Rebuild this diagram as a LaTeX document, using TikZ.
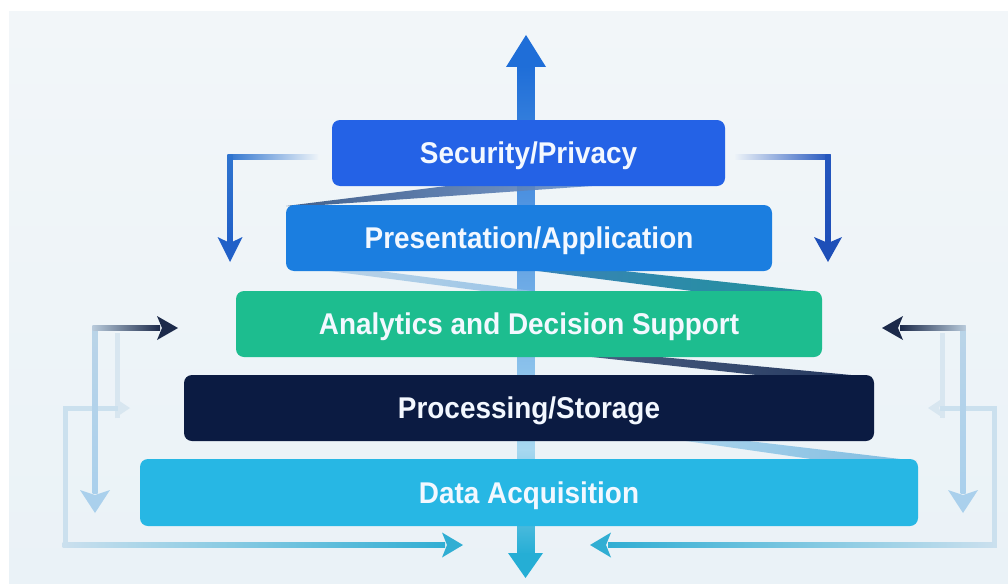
\documentclass[tikz,border=0pt]{standalone}
\usepackage{fontspec}
\setmainfont{Liberation Sans}
\usetikzlibrary{calc}
\definecolor{bgtop}{HTML}{F2F6F9}
\definecolor{bgbot}{HTML}{EAF2F7}
\definecolor{cSec}{HTML}{2462E6}
\definecolor{cPres}{HTML}{1B7EE0}
\definecolor{cAna}{HTML}{1DBD8F}
\definecolor{cProc}{HTML}{0B1B42}
\definecolor{cData}{HTML}{27B7E4}
\definecolor{txt}{HTML}{F3F8FF}
\definecolor{barA}{HTML}{1F6ED8}
\definecolor{barB}{HTML}{A8D8F0}
\definecolor{barC}{HTML}{25AED5}
\definecolor{blueL}{HTML}{2F74CF}
\definecolor{blueLd}{HTML}{2160C8}
\definecolor{blueR}{HTML}{2456BE}
\definecolor{blueRd}{HTML}{1E4FB8}
\definecolor{navy}{HTML}{1C2A4A}
\definecolor{greyb}{HTML}{B8CADB}
\definecolor{lightv}{HTML}{BAD4E8}
\definecolor{lightd}{HTML}{AAD0EC}
\definecolor{faint}{HTML}{D8E6F0}
\definecolor{rectc}{HTML}{CBE0EE}
\definecolor{teal}{HTML}{30AED3}
\definecolor{bg}{HTML}{EDF3F8}
\definecolor{bandA}{HTML}{30507F}
\definecolor{bandB}{HTML}{7096CE}
\definecolor{lbandA}{HTML}{B6D0E6}
\definecolor{lbandB}{HTML}{8FBFE6}
\definecolor{tbandA}{HTML}{2F7DB5}
\definecolor{tbandB}{HTML}{168E96}
\definecolor{dbandA}{HTML}{4A5F82}
\definecolor{dbandB}{HTML}{22355C}
\definecolor{pbandA}{HTML}{AAD3EC}
\definecolor{pbandB}{HTML}{7FBCE0}
\newcommand\arrhead[6]{%
  \fill[#6, shift={(#1)}, rotate=#2] (0,0) -- (-#3,#4/2) -- (-#3+#5,0) -- (-#3,-#4/2) -- cycle;}
\newcommand\lbl[1]{\scalebox{0.93}[1]{#1}}
\begin{document}
\begin{tikzpicture}[x=1pt,y=-1pt,
  layer/.style={rounded corners=8pt, minimum height=66pt, inner sep=0pt,
    text height=26.5pt, text depth=5pt,
    text=txt, font=\bfseries\fontsize{30}{34}\selectfont}]
\useasboundingbox (0,0) rectangle (1008,583);
\fill[white] (0,0) rectangle (1008,583);
\shade[top color=bgtop,bottom color=bgbot] (9,12) rectangle (1008,583);

% ---- coordinates
\coordinate (top) at (526,35);
\coordinate (bot) at (525.5,578);
\coordinate (lt1) at (318,157); \coordinate (lt2) at (230,157); \coordinate (lt3) at (230,262);
\coordinate (rt1) at (735,157); \coordinate (rt2) at (828,157); \coordinate (rt3) at (828,262);
\coordinate (lmc) at (95,328); \coordinate (lmr) at (178,328); \coordinate (lmd) at (95,513);
\coordinate (rmc) at (963,328); \coordinate (rml) at (882,328); \coordinate (rmd) at (963,513);
\coordinate (lfa) at (130,408); \coordinate (lfc) at (65,408); \coordinate (lfb) at (65,545); \coordinate (lbt) at (463,545);
\coordinate (rfa) at (928,408); \coordinate (rfc) at (994,408); \coordinate (rfb) at (994,545); \coordinate (rbt) at (590,545);

% ---- central bar
\shade[top color=barA, bottom color=barB] (517.5,66) rectangle (534.5,450);
\shade[top color=barB, bottom color=barC] (517.5,449) rectangle (534.5,554);
\fill[barA] (top) -- (506,67) -- (546,67) -- cycle;
\fill[barC] (bot) -- (508,553) -- (543,553) -- cycle;

% ---- zigzag bands
\shade[left color=bandA, right color=bandB, opacity=0.9] (286,206) -- (300,206.5) -- (606,185) -- (495,180) -- cycle;
\shade[left color=lbandA, right color=lbandB, opacity=0.9] (322,270) -- (372,270) -- (540,292) -- (490,292) -- cycle;
\shade[left color=tbandA, right color=tbandB, opacity=0.95] (530,270) -- (615,270) -- (817,292) -- (700,292) -- cycle;
\shade[left color=dbandA, right color=dbandB] (583,356) -- (650,356) -- (872,377) -- (775,377) -- cycle;
\shade[left color=pbandA, right color=pbandB] (679,440) -- (740,440) -- (917,461) -- (825,461) -- cycle;

% ---- layers
\node[layer, fill=cSec, minimum width=393pt] (sec) at (528.5,153) {\lbl{Security/Privacy}};
\node[layer, fill=cPres, minimum width=486pt] (pres) at (529,238) {\lbl{Presentation/Application}};
\node[layer, fill=cAna, minimum width=586pt] (ana) at (529,324) {\lbl{Analytics and Decision Support}};
\node[layer, fill=cProc, minimum width=690pt] (proc) at (529,408) {\lbl{Processing/Storage}};
\node[layer, fill=cData, minimum width=778pt, minimum height=67pt] (data) at (529,492.5) {\lbl{Data Acquisition}};

% ---- top side arrows
\shade[left color=blueL, right color=bg] ($(lt2)+(-2.5,-2.5)$) rectangle ($(lt1)+(0,2.5)$);
\shade[top color=blueL, bottom color=blueLd] ($(lt2)+(-2.5,-2.5)$) rectangle ($(lt3)+(2.5,-20)$);
\arrhead{lt3}{-90}{25}{25}{6}{blueLd}
\shade[left color=bg, right color=blueR] ($(rt1)+(0,-2.5)$) rectangle ($(rt2)+(2.5,2.5)$);
\shade[top color=blueR, bottom color=blueRd] ($(rt2)+(-2.5,-2.5)$) rectangle ($(rt3)+(2.5,-20)$);
\arrhead{rt3}{-90}{25}{28}{6}{blueRd}

% ---- faint outer loops
\fill[faint] (114.5,333) rectangle (119.5,418);
\fill[faint] (939.5,333) rectangle (944.5,418);
\fill[rectc] ($(lfc)+(-2.5,-2.5)$) rectangle ($(lfa)+(-12,2.5)$);
\arrhead{lfa}{0}{15}{20}{4}{faint}
\fill[rectc] ($(lfc)+(-2.5,-2.5)$) rectangle ($(lfb)+(2.5,2.5)$);
\shade[left color=rectc, right color=teal] ($(lfb)+(-2.5,-2.5)$) rectangle ($(lbt)+(-18,2.5)$);
\arrhead{lbt}{0}{21}{25}{5}{teal}
\fill[rectc] ($(rfa)+(12,-2.5)$) rectangle ($(rfc)+(2.5,2.5)$);
\arrhead{rfa}{180}{15}{20}{4}{faint}
\fill[rectc] ($(rfc)+(-2.5,-2.5)$) rectangle ($(rfb)+(2.5,2.5)$);
\shade[left color=teal, right color=rectc] ($(rbt)+(18,-2.5)$) rectangle ($(rfb)+(2.5,2.5)$);
\arrhead{rbt}{180}{21}{25}{5}{teal}

% ---- middle side arrows
\shade[top color=lightv, bottom color=lightd] ($(lmc)+(-2.5,-2.5)$) rectangle ($(lmd)+(2.5,-20)$);
\arrhead{lmd}{-90}{23}{30}{5}{lightd}
\shade[left color=greyb, right color=navy] ($(lmc)+(-2.5,-2.5)$) rectangle ($(lmr)+(-18,2.5)$);
\arrhead{lmr}{0}{21}{24}{5}{navy}
\shade[top color=lightv, bottom color=lightd] ($(rmc)+(-2.5,-2.5)$) rectangle ($(rmd)+(2.5,-20)$);
\arrhead{rmd}{-90}{23}{30}{5}{lightd}
\shade[left color=navy, right color=greyb] ($(rml)+(18,-2.5)$) rectangle ($(rmc)+(2.5,2.5)$);
\arrhead{rml}{180}{21}{24}{5}{navy}
\end{tikzpicture}
\end{document}
